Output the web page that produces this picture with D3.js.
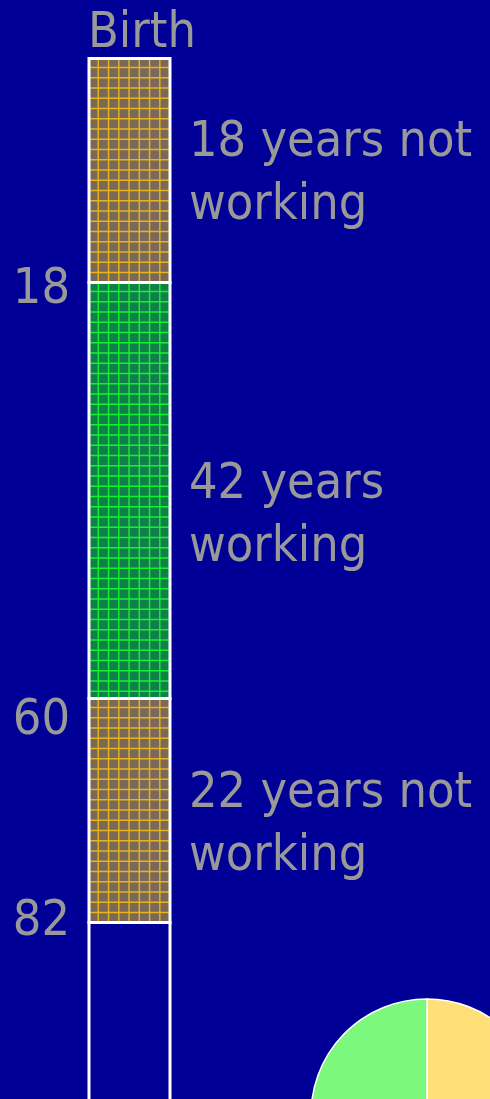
<!DOCTYPE html>
<html>
<head>
<meta charset="utf-8">
<script src="https://cdn.jsdelivr.net/npm/d3@7"></script>
<style>
  html, body { margin: 0; padding: 0; background: #000096; overflow: hidden; }
  text { font-family: "DejaVu Sans Condensed", "DejaVu Sans", sans-serif; font-stretch: condensed; }
</style>
</head>
<body>
<div id="vis"></div>
<script>
// life segments (ages)
const segStart = [0, 18, 60, 82];
const segEnd = [18, 60, 82, 100];
const segKind = ["not", "work", "not", "none"];
// age tick labels on the left
const tickAges = [18, 60, 82];
// labels to the right of the bar
const segLabels = [["18 years not", "working"], ["42 years", "working"], ["22 years not", "working"]];
// pie: not working vs working years
const pieLabels = ["not working", "working"];
const pieValues = [40, 42];

const width = 490, height = 1099;

let svg = d3.select('#vis')
  .append('svg')
  .attr('width', width)
  .attr('height', height)
  .style('display', 'block')
  .style('background-color', '#000096');

// the bar is not drawn to a single linear scale in the original, so piecewise
const y = d3.scaleLinear()
  .domain([0, 18, 60, 82, 100])
  .range([58.5, 282.5, 698.5, 922.5, 1100.5]);

const barX = 89, barW = 81;
const cell = 10.25;
const fillCol = { not: "#7a6858", work: "#0f8048" };
const lineCol = { not: "#e6b41c", work: "#16f034" };

const idx = d3.range(segStart.length);
const filled = idx.filter(i => segKind[i] !== "none");

const bar = svg.append("g");
bar.selectAll("rect.fill")
  .data(filled)
  .join("rect")
  .attr("class", "fill")
  .attr("x", barX)
  .attr("y", i => y(segStart[i]))
  .attr("width", barW)
  .attr("height", i => y(segEnd[i]) - y(segStart[i]))
  .attr("fill", i => fillCol[segKind[i]]);

// grid lines inside each filled segment
const gridG = bar.selectAll("g.grid")
  .data(filled)
  .join("g")
  .attr("class", "grid")
  .attr("stroke", i => lineCol[segKind[i]])
  .attr("stroke-width", 1.4);
gridG.selectAll("line.v")
  .data(i => d3.range(barX + 9.3, barX + barW - 1, cell).map(x => ({ i, x })))
  .join("line")
  .attr("class", "v")
  .attr("x1", d => d.x).attr("x2", d => d.x)
  .attr("y1", d => y(segStart[d.i])).attr("y2", d => y(segEnd[d.i]));
gridG.selectAll("line.h")
  .data(i => d3.range(y(segStart[i]) + 9, y(segEnd[i]) - 1, cell).map(v => ({ i, v })))
  .join("line")
  .attr("class", "h")
  .attr("x1", barX).attr("x2", barX + barW)
  .attr("y1", d => d.v).attr("y2", d => d.v);

bar.selectAll("rect.edge")
  .data(idx)
  .join("rect")
  .attr("class", "edge")
  .attr("x", barX)
  .attr("y", i => y(segStart[i]))
  .attr("width", barW)
  .attr("height", i => y(segEnd[i]) - y(segStart[i]))
  .attr("fill", "none")
  .attr("stroke", "#ffffff")
  .attr("stroke-width", 3);

const txt = "#999999";

// Birth
svg.append("text")
  .attr("x", 88)
  .attr("y", y(0) - 12)
  .attr("fill", txt)
  .attr("font-size", 50)
  .text("Birth");

// age ticks
const tickNudge = [2, 17, -6];
svg.selectAll("text.tick")
  .data(tickAges)
  .join("text")
  .attr("class", "tick")
  .attr("x", 70)
  .attr("y", (d, i) => y(d) + tickNudge[i])
  .attr("dy", "0.36em")
  .attr("text-anchor", "end")
  .attr("fill", txt)
  .attr("font-size", 50)
  .text(d => d);

// segment labels
const labelNudge = [0, 22, 11];
const lab = svg.selectAll("text.lab")
  .data(segLabels)
  .join("text")
  .attr("class", "lab")
  .attr("fill", txt)
  .attr("font-size", 50)
  .attr("transform", (d, i) => `translate(189,${(y(segStart[i]) + y(segEnd[i])) / 2 + labelNudge[i]})`);
lab.selectAll("tspan")
  .data(d => d)
  .join("tspan")
  .attr("x", 0)
  .attr("y", (d, j) => j === 0 ? -15 : 48)
  .text(d => d);

// pie at the bottom right
const pie = d3.pie().sort(null).startAngle(0).endAngle(2 * Math.PI);
const arc = d3.arc().innerRadius(0).outerRadius(116);
svg.append("g")
  .attr("transform", "translate(427,1115)")
  .selectAll("path")
  .data(pie(pieValues))
  .join("path")
  .attr("d", arc)
  .attr("fill", (d, i) => i === 0 ? "#ffdf78" : "#7cf87c")
  .attr("stroke", "#ffffff")
  .attr("stroke-width", 1.5);
</script>
</body>
</html>
